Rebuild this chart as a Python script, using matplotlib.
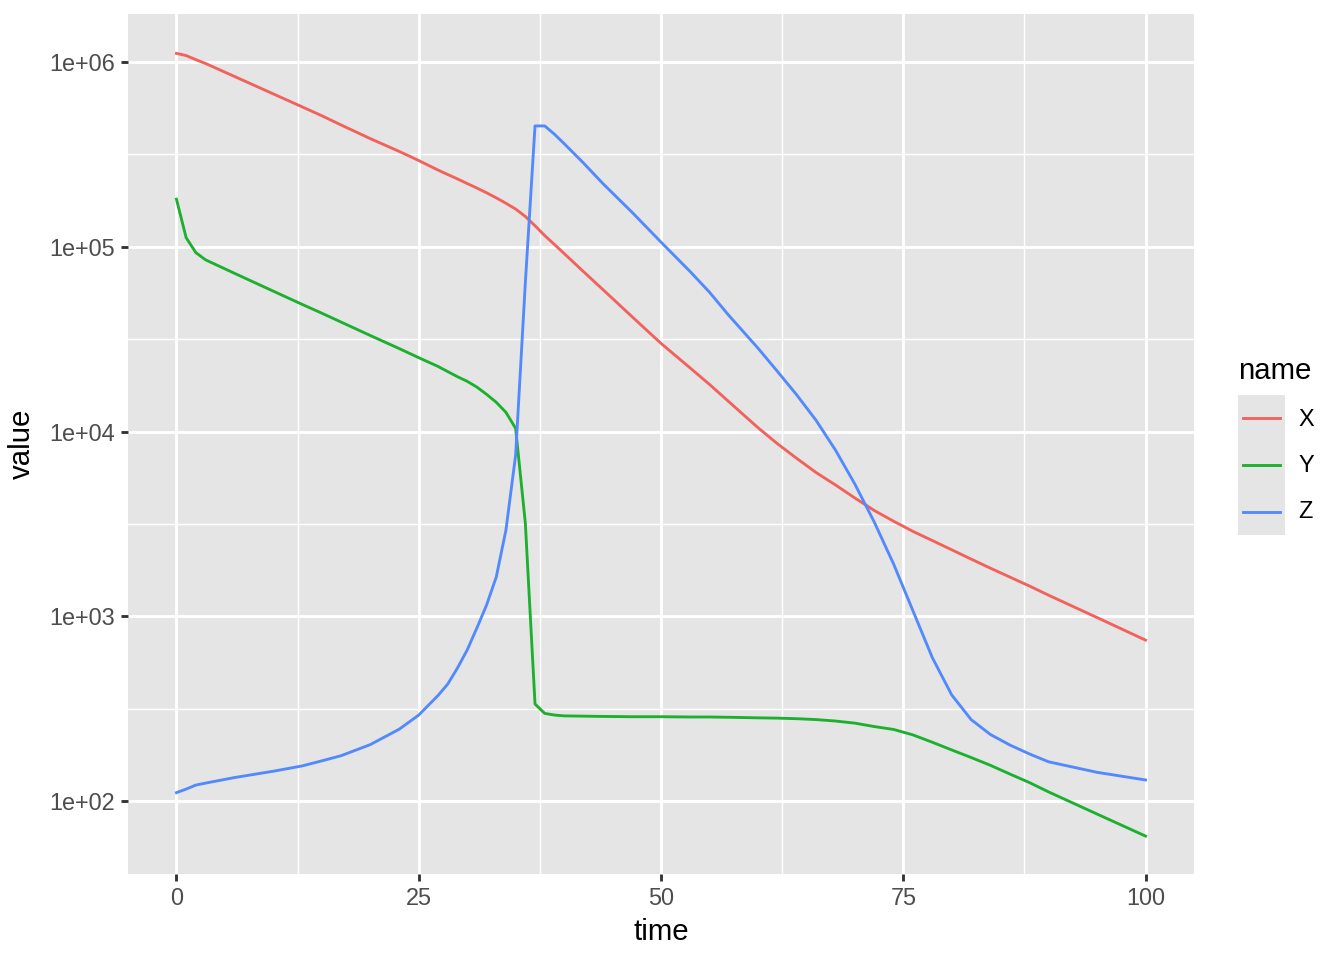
import matplotlib
matplotlib.use("Agg")
import matplotlib.pyplot as plt
from matplotlib.ticker import FixedLocator, FixedFormatter, NullFormatter

plt.rcParams['font.family'] = ['Liberation Sans', 'DejaVu Sans']

# values (log scale)
time = [0, 1, 2, 3, 6, 10, 13, 15, 17, 20, 23, 25, 27, 28, 29, 30, 31, 32, 33, 34,
        35, 36, 37, 38, 39, 40, 42, 44, 47, 50, 53, 55, 57, 60, 62, 64, 66, 68, 70,
        72, 74, 76, 78, 80, 82, 84, 86, 88, 90, 95, 100]

x_vals = [1.114e6, 1.084e6, 1.03e6, 9.82e5, 8.35e5, 6.72e5, 5.71e5, 5.12e5, 4.56e5,
          3.85e5, 3.28e5, 2.93e5, 2.60e5, 2.46e5, 2.33e5, 2.20e5, 2.08e5, 1.96e5,
          1.84e5, 1.72e5, 1.60e5, 1.46e5, 1.30e5, 1.15e5, 1.03e5, 9.2e4, 7.34e4,
          5.87e4, 4.19e4, 3.0e4, 2.21e4, 1.80e4, 1.45e4, 1.05e4, 8.6e3, 7.16e3,
          6.0e3, 5.14e3, 4.37e3, 3.74e3, 3.27e3, 2.88e3, 2.57e3, 2.29e3, 2.04e3,
          1.82e3, 1.63e3, 1.46e3, 1.30e3, 984, 743]

y_vals = [1.81e5, 1.12e5, 9.3e4, 8.5e4, 7.18e4, 5.75e4, 4.87e4, 4.37e4, 3.91e4,
          3.31e4, 2.81e4, 2.51e4, 2.25e4, 2.11e4, 1.98e4, 1.87e4, 1.74e4, 1.59e4,
          1.44e4, 1.27e4, 1.04e4, 3.2e3, 335, 298, 292, 289, 288, 287, 286, 286,
          285, 285, 284, 282, 281, 279, 276, 271, 264, 253, 244, 228, 208, 189, 172,
          156, 140, 126, 112, 85, 64.6]

z_vals = [111, 116, 122, 125, 134, 145, 155, 165, 176, 202, 245, 292, 373, 430, 525,
          657, 864, 1150, 1630, 2930, 7460, 6.37e4, 4.51e5, 4.51e5, 4.07e5, 3.62e5,
          2.84e5, 2.20e5, 1.54e5, 1.06e5, 7.35e4, 5.68e4, 4.25e4, 2.83e4, 2.12e4,
          1.58e4, 1.15e4, 7.94e3, 5.2e3, 3.24e3, 1.92e3, 1.07e3, 597, 375, 276, 229,
          201, 180, 163, 143, 130]

names = ['X', 'Y', 'Z']
colors = ['#F2615C', '#1DAF2E', '#5289FD']
series = [x_vals, y_vals, z_vals]

y_breaks = [1e2, 1e3, 1e4, 1e5, 1e6]
y_labels = ['1e+02', '1e+03', '1e+04', '1e+05', '1e+06']
y_minor = [10**2.5, 10**3.5, 10**4.5, 10**5.5]
x_breaks = [0, 25, 50, 75, 100]
x_minor = [12.5, 37.5, 62.5, 87.5]

fig = plt.figure(figsize=(7, 5), dpi=192)
ax = fig.add_axes([128/1344, 1 - 874/960, (1194 - 128)/1344, (874 - 14)/960])
ax.set_facecolor('#E5E5E5')

for vals, c in zip(series, colors):
    ax.plot(time, vals, color=c, lw=1.07, solid_joinstyle='round', zorder=3)

ax.set_yscale('log')
ax.set_xlim(-5, 105)
ax.set_ylim(10**1.605, 10**6.26)

ax.yaxis.set_major_locator(FixedLocator(y_breaks))
ax.yaxis.set_major_formatter(FixedFormatter(y_labels))
ax.yaxis.set_minor_locator(FixedLocator(y_minor))
ax.yaxis.set_minor_formatter(NullFormatter())
ax.xaxis.set_major_locator(FixedLocator(x_breaks))
ax.xaxis.set_minor_locator(FixedLocator(x_minor))

ax.grid(which='major', color='white', lw=1.07)
ax.grid(which='minor', color='white', lw=0.53)
ax.set_axisbelow(True)

for s in ax.spines.values():
    s.set_visible(False)

ax.tick_params(which='major', length=2.75, width=1.07, color='#333333',
               labelcolor='#4D4D4D', labelsize=8.8, pad=2.2)
ax.tick_params(which='minor', length=0)

ax.set_xlabel('time', fontsize=11, labelpad=3)
ax.set_ylabel('value', fontsize=11, labelpad=5)

# legend, ggplot style
lax = fig.add_axes([1238/1344, 1 - 535/960, 47/1344, 140/960])
lax.set_facecolor('#E5E5E5')
lax.set_xlim(0, 1)
lax.set_ylim(0, 3)
lax.set_xticks([])
lax.set_yticks([])
for s in lax.spines.values():
    s.set_visible(False)
for i, (n, c) in enumerate(zip(names, colors)):
    yc = 2.5 - i
    lax.plot([0.1, 0.9], [yc, yc], color=c, lw=1.07)
    fig.text(1298/1344, 1 - (420 + 46*i)/960, n, fontsize=8.8, va='center', ha='left')
fig.text(1238/1344, 1 - 371/960, 'name', fontsize=11, va='center', ha='left')

fig.savefig('out.png', dpi=192)
